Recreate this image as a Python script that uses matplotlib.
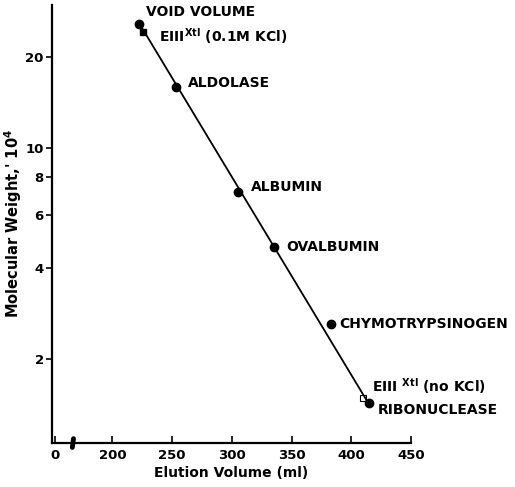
import matplotlib
matplotlib.use("Agg")
import matplotlib.pyplot as plt

# standards (filled circles)
std_names = ["VOID VOLUME", "ALDOLASE", "ALBUMIN", "OVALBUMIN", "CHYMOTRYPSINOGEN", "RIBONUCLEASE"]
std_vol = [222, 253, 305, 335, 383, 415]
std_mw = [25.7, 15.9, 7.1, 4.7, 2.6, 1.43]

# EIII Xtl samples
eiii_names = [r"EIII$^{\mathbf{Xtl}}$ (0.1M KCl)", r"EIII $^{\mathbf{Xtl}}$ (no KCl)"]
eiii_vol = [226, 410]
eiii_mw = [24.2, 1.48]

# calibration line end points
fit_vol = [222, 414]
fit_mw = [26.0, 1.43]

xticks = [152, 200, 250, 300, 350, 400, 450]
xticklabels = ["0", "200", "250", "300", "350", "400", "450"]
yticks = [2, 4, 6, 8, 10, 20]

plt.rcParams.update({"font.family": "DejaVu Sans", "font.weight": "bold", "font.size": 10})
fig = plt.figure(figsize=(5.15, 4.87), dpi=100)
ax = fig.add_axes([0.101, 0.0903, 0.697, 0.8997])

ax.plot(fit_vol, fit_mw, color="black", lw=1.3, zorder=2)
ax.plot(std_vol, std_mw, "o", color="black", ms=6, zorder=3)
ax.plot(eiii_vol[0], eiii_mw[0], "s", color="black", ms=5, zorder=3)
ax.plot(eiii_vol[1], eiii_mw[1], "s", mfc="white", mec="black", mew=0.8, ms=5, zorder=1)

std_off = [(7, 12), (12, 4), (13, 5), (13, 0), (8, 0), (9, -7)]
for n, x, y, o in zip(std_names, std_vol, std_mw, std_off):
    ax.annotate(n, (x, y), xytext=o, textcoords="offset pixels", ha="left", va="center",
                fontweight="bold", fontsize=10)
eiii_off = [(16, -4), (9, 12)]
for n, x, y, o in zip(eiii_names, eiii_vol, eiii_mw, eiii_off):
    ax.annotate(n, (x, y), xytext=o, textcoords="offset pixels", ha="left", va="center",
                fontweight="bold", fontsize=10)

ax.set_yscale("log")
ax.set_ylim(1.05, 29.7)
ax.set_xlim(149.5, 450)
ax.set_yticks(yticks)
ax.set_yticklabels([str(t) for t in yticks])
ax.yaxis.set_minor_locator(matplotlib.ticker.NullLocator())
ax.set_xticks(xticks)
ax.set_xticklabels(xticklabels)
ax.tick_params(axis="x", direction="in", length=5, width=1.2, pad=4, labelsize=9.5)
ax.tick_params(axis="y", direction="out", length=4, width=1.2, pad=2, labelsize=9.5)
for s in ("top", "right"):
    ax.spines[s].set_visible(False)
for s in ("left", "bottom"):
    ax.spines[s].set_linewidth(1.6)

# axis break mark
ax.plot([166.5, 167.5], [-0.01, 0.01], color="black", lw=3.5, clip_on=False,
        solid_capstyle="round", transform=ax.get_xaxis_transform())

ax.set_xlabel("Elution Volume (ml)", fontweight="bold", fontsize=10, labelpad=3)
ax.set_ylabel(r"Molecular Weight,' 10$^{\mathbf{4}}$", fontweight="bold", fontsize=10.5)
ax.yaxis.set_label_coords(-0.077, 0.5)

fig.savefig("out.png", dpi=100)
